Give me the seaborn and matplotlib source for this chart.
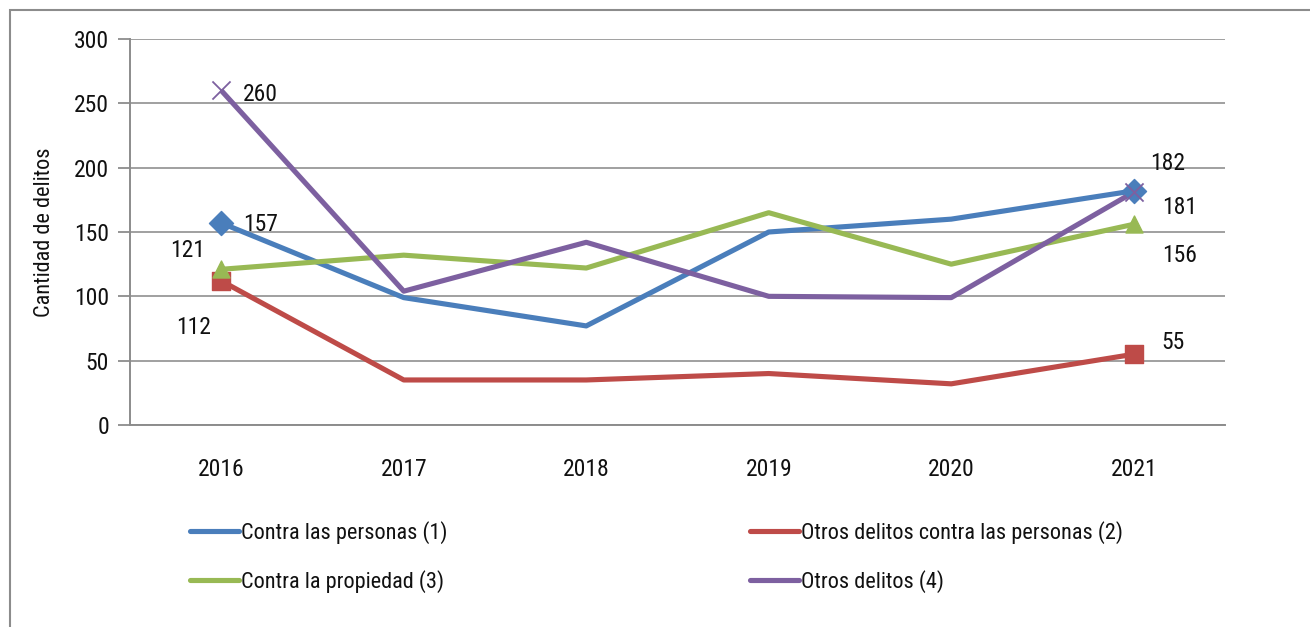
import pandas as pd
import matplotlib.pyplot as plt
import matplotlib.patches as mpatches
from matplotlib.ticker import MultipleLocator
import seaborn as sns

years = [2016, 2017, 2018, 2019, 2020, 2021]
series_names = ['Contra las personas (1)', 'Otros delitos contra las personas (2)',
                'Contra la propiedad (3)', 'Otros delitos (4)']
personas = [157, 99, 77, 150, 160, 182]
otros_personas = [112, 35, 35, 40, 32, 55]
propiedad = [121, 132, 122, 165, 125, 156]
otros = [260, 104, 142, 100, 99, 181]

colores = ['#4A7EBB', '#BE4B48', '#98B954', '#7D60A0']
marcadores = ['D', 's', '^', 'x']

sns.set_style('white')
plt.rcParams['font.family'] = ['Roboto Condensed', 'Liberation Sans Narrow', 'Roboto', 'DejaVu Sans']
plt.rcParams['font.stretch'] = 'condensed'

df = pd.DataFrame({
    'anio': years * 4,
    'valor': personas + otros_personas + propiedad + otros,
    'serie': sum([[n] * len(years) for n in series_names], []),
})

fig = plt.figure(figsize=(13.1, 6.27), dpi=100)
ax = fig.add_axes([130 / 1310, 1 - 425 / 627, 1095 / 1310, 386 / 627])

sns.lineplot(data=df, x='anio', y='valor', hue='serie', hue_order=series_names,
             palette=colores, linewidth=3.7, ax=ax, legend=True,
             solid_capstyle='butt')

# marcadores solo en los extremos
extremos = df[df['anio'].isin([2016, 2021])]
for nombre, col, mk in zip(series_names, colores, marcadores):
    sub = extremos[extremos['serie'] == nombre]
    if mk == 'x':
        ax.scatter(sub['anio'], sub['valor'], marker='x', s=170, color=col,
                   linewidths=1.3, zorder=5)
    else:
        ax.scatter(sub['anio'], sub['valor'], marker=mk, s=150, color=col,
                   edgecolors=col, zorder=4)

# etiquetas de datos
etiquetas = [
    (2016, 260, 260, 22, -4, 'left'),
    (2016, 157, 157, 22, -2, 'left'),
    (2016, 121, 121, -16, 19, 'right'),
    (2016, 112, 112, -10, -47, 'right'),
    (2021, 182, 182, 16, 27, 'left'),
    (2021, 181, 181, 28, -15, 'left'),
    (2021, 156, 156, 28, -31, 'left'),
    (2021, 55, 55, 28, 12, 'left'),
]
for x, y, txt, dx, dy, ha in etiquetas:
    ax.annotate(str(txt), (x, y), xytext=(dx, dy), textcoords='offset pixels',
                ha=ha, va='center', fontsize=17, color='#111111')

ax.set_xlim(2015.5, 2021.5)
ax.set_ylim(0, 300)
ax.yaxis.set_major_locator(MultipleLocator(50))
ax.set_xticks(years)
ax.set_xticks([y + 0.5 for y in [2015] + years], minor=True)
ax.tick_params(axis='x', which='major', length=0, labelsize=17, pad=24, labelcolor='#111111')
ax.tick_params(axis='x', which='minor', length=9, width=1.3, color='#8C8C8C', direction='out')
ax.tick_params(axis='y', length=9, width=1.3, color='#8C8C8C', labelsize=17, pad=6, left=True,
               labelcolor='#111111')
ax.grid(axis='y', color='#A0A0A0', linewidth=1.4)
ax.set_axisbelow(True)
for side in ['top', 'right']:
    ax.spines[side].set_visible(False)
for side in ['left', 'bottom']:
    ax.spines[side].set_color('#8C8C8C')
    ax.spines[side].set_linewidth(1.4)
ax.set_xlabel('')
ax.set_ylabel('Cantidad de delitos', fontsize=16, labelpad=14, color='#111111')

handles, labels = ax.get_legend_handles_labels()
ax.get_legend().remove()
for h in handles:
    h.set_linewidth(3.7)
    h.set_solid_capstyle('round')
orden = [0, 2, 1, 3]
fig.legend([handles[i] for i in orden], [labels[i] for i in orden], ncol=2, loc='upper left',
           bbox_to_anchor=(170 / 1310, 1 - 501 / 627), frameon=False,
           fontsize=16, handlelength=2.2, handletextpad=0.1,
           columnspacing=13.6, labelspacing=1.18, labelcolor='#111111')

fig.patches.append(mpatches.Rectangle((10 / 1310, -0.01), 1.2, 1 - 10 / 627 + 0.01,
                                      transform=fig.transFigure, fill=False,
                                      edgecolor='#8C8C8C', linewidth=1.5))

fig.savefig('out.png', dpi=100)
